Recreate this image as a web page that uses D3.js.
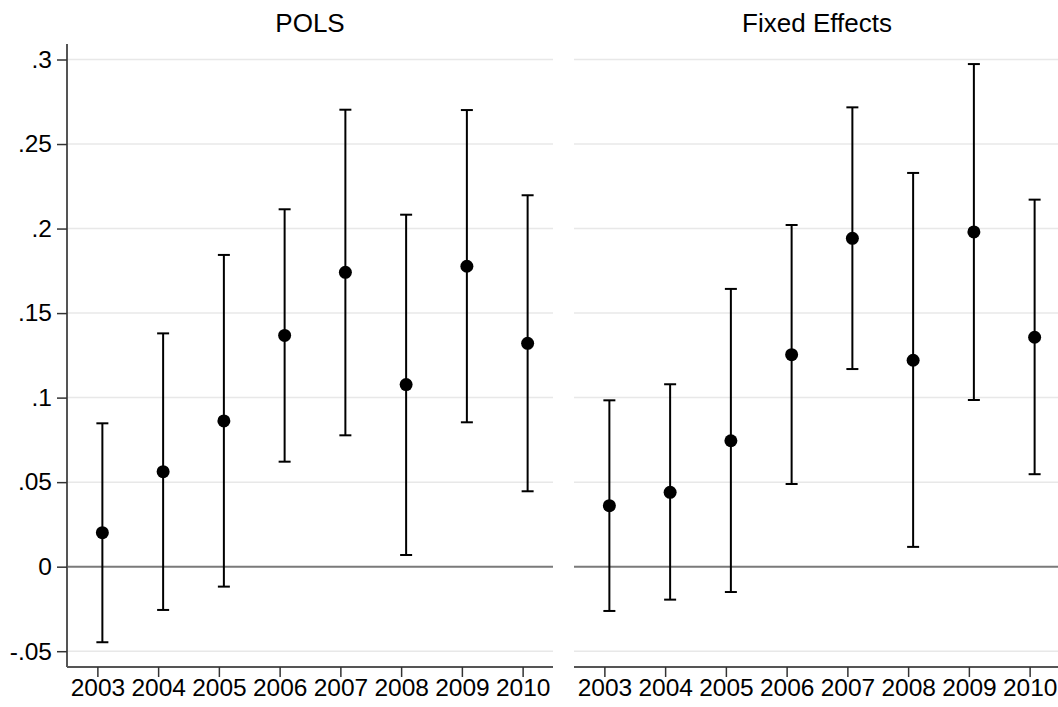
<!DOCTYPE html>
<html>
<head>
<meta charset="utf-8">
<script src="https://cdn.jsdelivr.net/npm/d3@7"></script>
<style>
  html, body { margin: 0; padding: 0; background: #fff; }
  svg { display: block; }
  text { font-family: "Liberation Sans", Arial, sans-serif; fill: #000; }
</style>
</head>
<body>
<svg id="chart" width="1058" height="707"></svg>
<script>
// ---- Data ----
const years = [2003, 2004, 2005, 2006, 2007, 2008, 2009, 2010];
const panelTitles = ["POLS", "Fixed Effects"];

const polsEst   = [0.0201, 0.0562, 0.0862, 0.1368, 0.1741, 0.1077, 0.1777, 0.1321];
const polsLow   = [-0.0447, -0.0256, -0.0118, 0.0621, 0.0777, 0.0069, 0.0854, 0.0446];
const polsHigh  = [0.0848, 0.1380, 0.1844, 0.2114, 0.2703, 0.2082, 0.2701, 0.2197];

const feEst     = [0.0361, 0.0440, 0.0745, 0.1254, 0.1942, 0.1221, 0.1980, 0.1357];
const feLow     = [-0.0262, -0.0195, -0.0150, 0.0489, 0.1169, 0.0117, 0.0986, 0.0547];
const feHigh    = [0.0984, 0.1079, 0.1643, 0.2021, 0.2717, 0.2329, 0.2973, 0.2171];

const yTickValues = [-0.05, 0, 0.05, 0.1, 0.15, 0.2, 0.25, 0.3];
const yTickLabels = ["-.05", "0", ".05", ".1", ".15", ".2", ".25", ".3"];

// ---- Layout ----
const svg = d3.select("#chart");
const plotTop = 44, plotBottom = 667;
const panelW = 486;
const panels = [
  { x0: 67,  title: panelTitles[0], est: polsEst, low: polsLow, high: polsHigh, yaxis: true },
  { x0: 574, title: panelTitles[1], est: feEst,   low: feLow,   high: feHigh,   yaxis: false }
];

const y = d3.scaleLinear().domain([-0.05, 0.3]).range([651.2, 59.5]);
const markerOffset = 5;
const tickFont = "24.5px";

panels.forEach(p => {
  const x = d3.scaleLinear()
    .domain([years[0] - 0.5, years[years.length - 1] + 0.5])
    .range([p.x0, p.x0 + panelW]);
  const g = svg.append("g");

  // gridlines
  g.selectAll("line.grid")
    .data(yTickValues.filter(v => v !== 0))
    .join("line")
    .attr("x1", p.x0).attr("x2", p.x0 + panelW)
    .attr("y1", d => y(d)).attr("y2", d => y(d))
    .attr("stroke", "#e8e8e8").attr("stroke-width", 1.5);

  // zero line
  g.append("line")
    .attr("x1", p.x0).attr("x2", p.x0 + panelW)
    .attr("y1", y(0)).attr("y2", y(0))
    .attr("stroke", "#7a7a7a").attr("stroke-width", 2);

  // x axis
  const xAxis = d3.axisBottom(x).tickValues(years).tickFormat(d3.format("d"))
    .tickSize(10).tickSizeOuter(0).tickPadding(2);
  const xg = g.append("g").attr("transform", `translate(0,${plotBottom})`).call(xAxis);
  xg.select(".domain").attr("stroke", "#555").attr("stroke-width", 2)
    .attr("d", `M${p.x0},0H${p.x0 + panelW}`);
  xg.selectAll(".tick line").attr("stroke", "#333").attr("stroke-width", 1.5);
  xg.selectAll(".tick text").style("font-size", tickFont)
    .style("font-family", "Liberation Sans, Arial, sans-serif").attr("fill", "#000");

  // y axis
  if (p.yaxis) {
    const yAxis = d3.axisLeft(y).tickValues(yTickValues)
      .tickFormat((d, i) => yTickLabels[i]).tickSize(10).tickSizeOuter(0).tickPadding(5);
    const yg = g.append("g").attr("transform", `translate(${p.x0},0)`).call(yAxis);
    yg.select(".domain").attr("stroke", "#555").attr("stroke-width", 2)
      .attr("d", `M0,${plotTop}V${plotBottom}`);
    yg.selectAll(".tick line").attr("stroke", "#333").attr("stroke-width", 1.5);
    yg.selectAll(".tick text").style("font-size", tickFont)
      .style("font-family", "Liberation Sans, Arial, sans-serif").attr("fill", "#000");
  }

  // title
  g.append("text")
    .attr("x", p.x0 + panelW / 2).attr("y", 31.5)
    .attr("text-anchor", "middle")
    .style("font-size", "26px")
    .text(p.title);

  const pts = years.map((yr, i) => ({ yr, est: p.est[i], lo: p.low[i], hi: p.high[i] }));
  const cx = d => x(d.yr) + markerOffset;

  // whiskers
  g.selectAll("line.ci").data(pts).join("line")
    .attr("x1", cx).attr("x2", cx)
    .attr("y1", d => y(d.lo)).attr("y2", d => y(d.hi))
    .attr("stroke", "#000").attr("stroke-width", 2);
  // caps
  ["lo", "hi"].forEach(k => {
    g.selectAll("line.cap" + k).data(pts).join("line")
      .attr("x1", d => cx(d) - 6).attr("x2", d => cx(d) + 6)
      .attr("y1", d => y(d[k])).attr("y2", d => y(d[k]))
      .attr("stroke", "#000").attr("stroke-width", 2);
  });
  // points
  g.selectAll("circle.pt").data(pts).join("circle")
    .attr("cx", cx).attr("cy", d => y(d.est)).attr("r", 6.5)
    .attr("fill", "#000");
});
</script>
</body>
</html>
